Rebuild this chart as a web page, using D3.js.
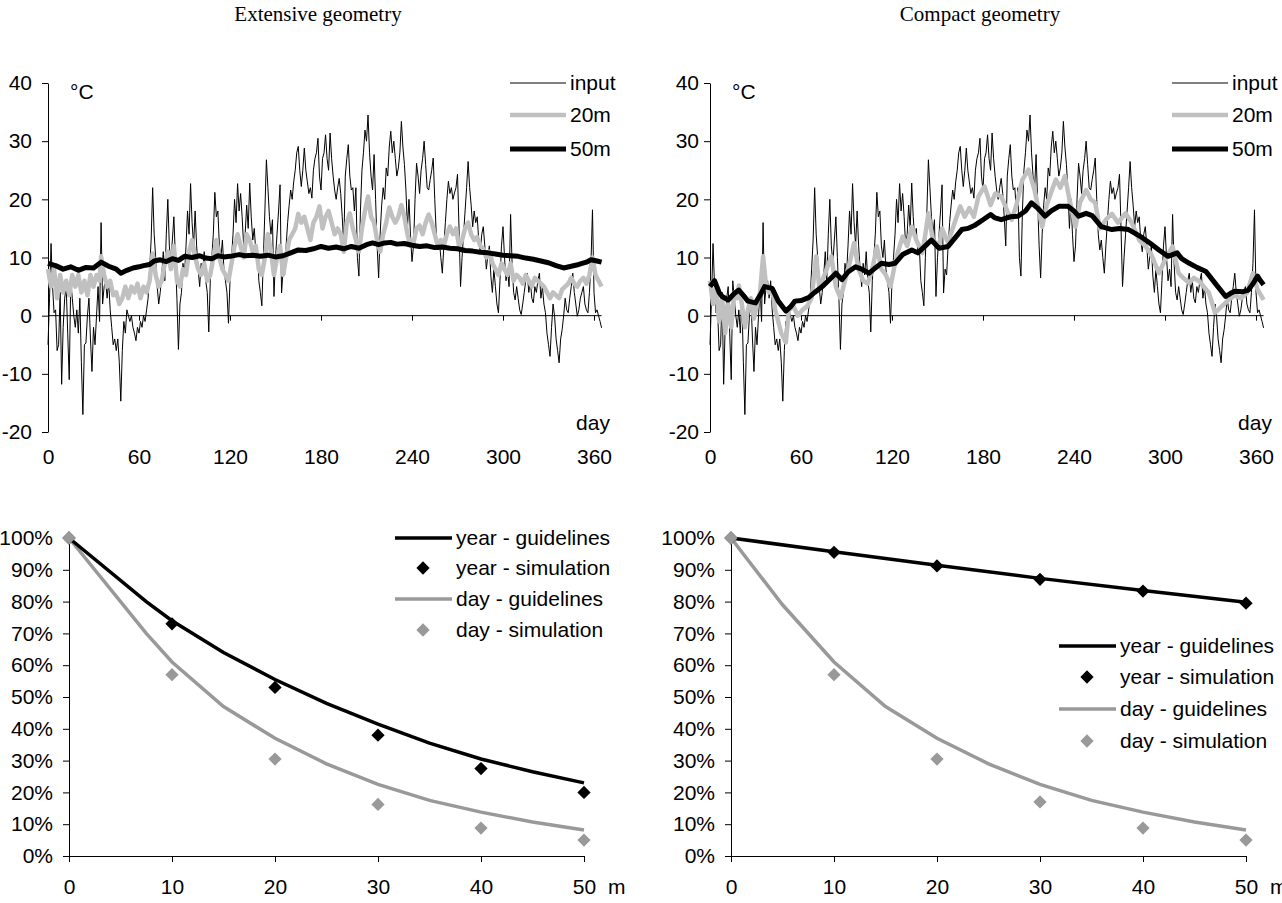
<!DOCTYPE html>
<html>
<head>
<meta charset="utf-8">
<script src="https://cdn.jsdelivr.net/npm/d3@7"></script>
<style>
body { margin: 0; background: #fff; }
svg text { font-family: "Liberation Sans", Arial, sans-serif; font-size: 21px; fill: #000; }
svg text.title { font-family: "Liberation Serif", "Times New Roman", serif; font-size: 21px; }
</style>
</head>
<body>
<div id="chart"></div>
<script>
// daily air temperature (input), [day, °C]
var inputTemp = [[0,-5],[1,3],[2,12.4],[3,5],[4,0.5],[5,1],[6,-6],[7,-5],[8,4],[9,-11.8],[10,-2],[11,3],[12,5],[13,-3],[14,-11],[15,6],[16,3],[17,0],[18,-2],[19,1],[20,-3],[21,3],[22,-8],[23,-17],[24,-5],[25,-4.7],[26,0],[27,3],[28,-4],[29,-9.6],[30,-2],[31,-5],[32,0],[33,5],[34,-1],[35,16],[36,2],[37,5],[38,6],[39,3],[40,6],[41,1],[42,-2],[43,-5],[44,-4],[45,-6],[46,-4],[47,-8],[48,-14.7],[49,-6],[50,-1],[51,-3],[52,1],[53,0],[54,-1],[55,0],[56,-2],[57,-3],[58,-4.3],[59,-2],[60,-3],[61,-1],[62,-2],[63,0],[64,-1],[65,1],[66,3],[67,8],[68,13],[69,22],[70,14],[71,10],[72,5],[73,2],[74,4],[75,7],[76,11],[77,6],[78,14],[79,20],[80,12],[81,9],[82,13],[83,17],[84,10],[85,3],[86,-5.8],[87,2],[88,4],[89,9],[90,7],[91,12],[92,18],[93,14],[94,22.7],[95,16],[96,12],[97,18],[98,12],[99,8],[100,5],[101,9],[102,7],[103,11],[104,6],[105,4],[106,-2.8],[107,6],[108,10],[109,14],[110,21.2],[111,17],[112,18],[113,12],[114,10],[115,13],[116,8],[117,6],[118,4],[119,-1.3],[120,6],[121,10],[122,14],[123,20],[124,16],[125,22.7],[126,18],[127,21],[128,17],[129,12],[130,14],[131,19],[132,15],[133,22.8],[134,17],[135,13],[136,15],[137,11],[138,12],[139,6],[140,4],[141,1.7],[142,10],[143,18],[144,26.8],[145,22],[146,17],[147,14],[148,16.5],[149,3.3],[150,10],[151,14],[152,18],[153,22.5],[154,3.9],[155,8],[156,7],[157,12],[158,16],[159,19],[160,21.6],[161,20],[162,23],[163,25],[164,28],[165,29.1],[166,25],[167,22.2],[168,25],[169,28.8],[170,25],[171,23],[172,21],[173,22],[174,20.2],[175,25],[176,27],[177,28],[178,30.5],[179,24],[180,21.6],[181,27],[182,28],[183,31.1],[184,27],[185,25],[186,31.4],[187,27],[188,24],[189,21.6],[190,20],[191,22],[192,23.6],[193,21],[194,17],[195,12],[196,24],[197,27],[198,29.4],[199,24],[200,21.6],[201,22],[202,18],[203,22],[204,10],[205,6.8],[206,18],[207,25],[208,28],[209,31.9],[210,30],[211,34.5],[212,28],[213,24],[214,21.6],[215,27.7],[216,20],[217,12],[218,6.5],[219,14],[220,19],[221,22],[222,20],[223,25.4],[224,24],[225,29],[226,31.7],[227,28],[228,30],[229,27],[230,24],[231,25.4],[232,28],[233,33.4],[234,29],[235,26],[236,21.6],[237,15],[238,20],[239,14],[240,9.3],[241,12],[242,20],[243,26.2],[244,24],[245,21],[246,25],[247,27],[248,30],[249,26],[250,22],[251,21.6],[252,23.4],[253,25],[254,27.1],[255,20],[256,14],[257,11.3],[258,13],[259,10],[260,7.3],[261,12],[262,16],[263,20],[264,23.1],[265,21],[266,22],[267,20],[268,21.1],[269,22],[270,24.3],[271,15],[272,5],[273,10],[274,14],[275,18],[276,22],[277,26.5],[278,22],[279,19],[280,15.3],[281,18],[282,16],[283,17],[284,13],[285,11],[286,14],[287,15.3],[288,12],[289,8],[290,10.2],[291,12],[292,6.8],[293,4],[294,8],[295,5],[296,2],[297,0.5],[298,6],[299,12],[300,15.3],[301,10],[302,6],[303,8],[304,5],[305,17.4],[306,9],[307,4],[308,2.7],[309,5],[310,3],[311,1],[312,0.2],[313,2],[314,4],[315,6],[316,7.3],[317,4],[318,6],[319,3],[320,2.2],[321,5],[322,4],[323,6],[324,7.3],[325,3],[326,5],[327,2],[328,0.5],[329,-3],[330,-5],[331,-7],[332,-2],[333,2],[334,-0.1],[335,-4],[336,-6],[337,-8.1],[338,-4],[339,-2.4],[340,0],[341,3],[342,1],[343,0.5],[344,3],[345,5],[346,7.3],[347,4],[348,2],[349,-0.1],[350,1],[351,3],[352,4],[353,5],[354,2],[355,1],[356,0.5],[357,4],[358,9],[359,18.2],[360,4],[361,0.5],[362,1],[363,0],[364,-1],[365,-2.1]];

// extensive geometry, ground temperature at 20 m and 50 m
var ext20m = [[0,8],[2,5],[4,8],[6,3],[8,7],[10,4],[12,6],[14,3.5],[16,7],[18,5],[20,7],[22,4],[24,6],[26,3.5],[28,7],[30,5],[32,7],[34,6],[35,10.2],[37,7],[39,5],[41,6],[43,3.5],[45,4],[47,2],[49,3],[51,5],[53,3],[55,5],[57,4],[59,5.5],[61,3],[63,5],[65,4],[67,6],[69,10.7],[71,7],[73,5],[75,6],[77,9],[79,11],[81,8],[83,12],[85,6],[87,5],[89,8],[91,7],[93,11],[95,13],[97,10],[99,8],[101,7],[103,9],[105,6],[107,7],[109,10],[111,13],[113,10],[115,8],[117,7],[119,6],[121,9],[123,12],[125,14],[127,12],[129,10],[131,14],[133,13],[135,11],[137,12],[139,8],[141,7],[143,10],[145,14],[147,11],[149,7],[151,10],[153,12],[155,7],[157,10],[159,13],[161,14],[163,15],[165,17.5],[167,16],[169,17],[171,15],[173,13],[175,16],[177,17],[179,18.8],[181,15],[183,17],[185,18],[187,16],[189,14],[191,15],[193,14],[195,11],[197,16],[199,17.6],[201,15],[203,13],[205,11],[207,15],[209,18],[211,20.5],[213,17],[215,16],[217,13],[219,11],[221,14],[223,16],[225,18.6],[227,17],[229,16],[231,17],[233,19],[235,17],[237,14],[239,12],[241,12.5],[243,15],[245,15.5],[247,14],[249,16],[251,17.4],[253,16],[255,14],[257,12],[259,13],[261,12],[263,14],[265,15.3],[267,14],[269,15],[271,12],[273,13],[275,15],[277,16],[279,14],[281,13],[283,13.5],[285,12],[287,11.5],[289,10],[291,11],[293,9],[295,8],[297,7],[299,9],[301,8],[303,7],[305,9],[307,6],[309,7],[311,6.5],[313,5.5],[315,7],[317,6],[319,5],[321,6.5],[323,6],[325,5.5],[327,5],[329,4],[331,3],[333,4],[335,3.5],[337,3],[339,4.5],[341,5],[343,5.5],[345,6.5],[347,5.5],[349,5],[351,6],[353,6.5],[355,5.5],[357,7],[359,10],[361,7],[363,6],[365,5]];
var ext50m = [[0,9],[5,8.6],[10,8],[15,8.4],[20,7.8],[25,8.3],[30,8.2],[35,9.2],[40,8.5],[45,8],[48,7.3],[52,7.8],[56,8.2],[60,8.4],[63,8.6],[67,8.8],[70,9.4],[74,9.6],[78,9.3],[82,9.8],[86,9.5],[90,10.2],[95,10],[100,10.3],[104,9.9],[108,9.8],[112,10.3],[116,10.1],[120,10.2],[126,10.5],[130,10.3],[135,10.4],[140,10.2],[145,10.4],[150,10.1],[155,10.3],[160,10.8],[165,11.3],[170,11.2],[175,11.5],[180,11.9],[185,11.6],[190,11.8],[195,11.5],[200,11.9],[205,11.6],[210,12.2],[214,12.5],[218,12.2],[222,12.5],[226,12.6],[230,12.3],[235,12.4],[240,12.1],[245,11.9],[250,12],[255,11.7],[260,11.8],[265,11.6],[270,11.5],[275,11.2],[280,11.1],[285,10.9],[290,10.8],[295,10.6],[300,10.4],[305,10.3],[310,10.2],[315,9.9],[320,9.7],[325,9.4],[330,9.1],[335,8.6],[340,8.2],[345,8.5],[350,8.8],[355,9.2],[358,9.6],[362,9.4],[365,9.2]];

// compact geometry, ground temperature at 20 m and 50 m
var comp20m = [[0,6],[2,2],[4,5],[6,-1],[8,3],[10,-3],[12,2],[14,-2],[16,4],[18,3],[19,5.2],[21,2],[23,-2],[25,1],[27,3],[29,-0.5],[31,2],[33,4],[35,10.2],[37,5],[39,4],[41,4.5],[43,1],[45,-1],[47,-3],[50,-4.6],[52,1],[55,1.6],[58,0],[61,1],[64,1.6],[67,3],[70,10.2],[72,5],[74,6],[77,8],[80,10.2],[83,5],[86,3],[89,6],[92,9],[95,12.5],[98,8],[101,6],[104,5.5],[107,8],[110,11.9],[113,8],[116,7],[119,5],[122,9],[124,11],[127,13.6],[130,12],[133,15.3],[136,13],[140,10.8],[142,14],[144,17.6],[147,13],[151,11.9],[153,15],[157,12.5],[160,15],[165,18.8],[168,17],[171,18.5],[174,17],[177,20.5],[181,22.2],[185,19],[188,21],[192,20.5],[196,18],[199,16.5],[202,19],[206,23.4],[210,25.1],[214,21.6],[219,15.3],[222,19],[224,20.5],[228,23.4],[231,22],[234,24],[237,20],[241,15.3],[244,19.5],[248,21.6],[251,20],[254,19.4],[257,15],[261,16.5],[265,17.5],[269,16],[274,17.6],[278,16],[283,13],[287,12],[291,10.5],[296,7.3],[300,9.6],[305,11.9],[309,7.3],[312,6.5],[316,5.6],[319,6.5],[323,5.8],[329,3.9],[333,0.5],[337,1.5],[342,2.7],[346,3.5],[350,3],[354,3.9],[358,7.3],[361,4.5],[365,2.7]];
var comp50m = [[0,5],[3,6],[6,4],[8,3.3],[12,2.7],[16,3.8],[19,4.4],[22,3.5],[25,2.5],[30,2.2],[33,3.5],[36,5],[41,4.7],[45,2.5],[50,0.8],[53,1.5],[56,2.5],[60,2.6],[65,3.1],[69,4],[74,5],[78,6],[83,7.3],[87,6.2],[91,7.5],[96,8.4],[100,8],[105,7.3],[109,8.2],[113,9],[118,8.8],[122,9],[127,10.5],[133,11.3],[137,10.8],[142,12],[146,13],[151,11.6],[157,11.9],[162,13.5],[166,14.8],[170,15],[175,15.6],[180,16.5],[185,17.4],[188,16.8],[192,16.5],[198,17],[203,17.1],[208,18],[212,19.4],[216,18.5],[221,17.1],[225,18],[230,18.8],[236,18.8],[240,18],[243,17.1],[248,17.6],[252,17.2],[258,15.3],[265,14.8],[270,15],[276,14.8],[280,14.2],[285,13.4],[290,12.5],[296,11.3],[302,10.2],[308,10.8],[311,9.8],[316,9],[321,8.3],[327,7.6],[333,5.6],[340,3.3],[343,3.8],[346,4.2],[351,4.1],[355,4.4],[358,5.5],[361,6.8],[363,6],[365,5.3]];

var dayTicks = [0, 60, 120, 180, 240, 300, 360];
var tempTicks = [-20, -10, 0, 10, 20, 30, 40];
var topLegend = ["input", "20m", "50m"];

// attenuation vs depth, [m, %]
var extYearGuide = [[0,100],[7.5,80],[10,74],[15,64],[20,55.5],[25,48],[30,41.5],[35,35.5],[40,30.5],[45,26.5],[50,23]];
var extYearSim = [[0,100],[10,73],[20,53],[30,38],[40,27.5],[50,20]];
var extDayGuide = [[0,100],[7.5,70],[10,61],[15,47],[20,37],[25,29],[30,22.5],[35,17.5],[40,13.8],[45,10.7],[50,8.2]];
var extDaySim = [[0,100],[10,57],[20,30.5],[30,16.2],[40,8.8],[50,5]];
var compYearGuide = [[0,100],[10,95.7],[20,91.4],[30,87.3],[40,83.5],[50,79.8]];
var compYearSim = [[0,100],[10,95.5],[20,91.2],[30,87],[40,83.3],[50,79.5]];
var compDayGuide = [[0,100],[5,79],[10,61],[15,47],[20,37],[25,29],[30,22.5],[35,17.5],[40,13.8],[45,10.7],[50,8.2]];
var compDaySim = [[0,100],[10,57],[20,30.5],[30,17],[40,8.8],[50,5]];

var depthTicks = [0, 10, 20, 30, 40, 50];
var pctTicks = [0, 10, 20, 30, 40, 50, 60, 70, 80, 90, 100];
var bottomLegend = ["year - guidelines", "year - simulation", "day - guidelines", "day - simulation"];

var svg = d3.select("#chart").append("svg")
    .attr("width", 1282)
    .attr("height", 903);

function tempPanel(dx, title, s20, s50, labelPad) {
  var g = svg.append("g").attr("transform", "translate(" + dx + ",0)");
  var x = d3.scaleLinear().domain([0, 360]).range([48, 594]);
  var y = d3.scaleLinear().domain([-20, 40]).range([432, 83]);

  g.append("text").attr("class", "title")
      .attr("x", 318).attr("y", 21)
      .attr("text-anchor", "middle")
      .text(title);

  var yAxis = g.append("g")
      .attr("transform", "translate(" + x(0) + ",0)")
      .call(d3.axisLeft(y).tickValues(tempTicks).tickSize(6).tickSizeOuter(0).tickPadding(labelPad)
        .tickFormat(function(d) { return d < 0 ? "-" + Math.abs(d) : d; }));
  yAxis.selectAll("text").style("font-size", "21px");

  var xAxis = g.append("g")
      .attr("transform", "translate(0," + y(0) + ")")
      .call(d3.axisBottom(x).tickValues(dayTicks).tickSize(5).tickSizeOuter(0));
  xAxis.select(".domain").attr("d", "M" + x(0) + ",0H" + x(365));
  xAxis.selectAll(".tick line").filter(function(d) { return d === 0; }).remove();
  xAxis.selectAll("text").attr("y", y(-20) - y(0) + 25).attr("dy", "0.35em").style("font-size", "21px");
  g.selectAll(".domain, .tick line").attr("stroke", "#000");

  g.append("text").attr("x", 70).attr("y", 92).attr("dy", "0.35em").text("°C");
  g.append("text").attr("x", 593).attr("y", 430).attr("text-anchor", "middle").text("day");

  var line = d3.line().x(function(d) { return x(d[0]); }).y(function(d) { return y(d[1]); });
  g.append("path").datum(inputTemp).attr("d", line)
      .attr("fill", "none").attr("stroke", "#000").attr("stroke-width", 1);
  g.append("path").datum(s20).attr("d", line)
      .attr("fill", "none").attr("stroke", "#c0c0c0").attr("stroke-width", 4.5).attr("stroke-linejoin", "round");
  g.append("path").datum(s50).attr("d", line)
      .attr("fill", "none").attr("stroke", "#000").attr("stroke-width", 5).attr("stroke-linejoin", "round");

  var legY = [83, 115, 149];
  var legStroke = ["#000", "#c0c0c0", "#000"];
  var legWidth = [1, 4.5, 5];
  var leg = g.selectAll(".leg").data(topLegend).enter().append("g").attr("class", "leg");
  leg.append("line")
      .attr("x1", 510).attr("x2", 566)
      .attr("y1", function(d, i) { return legY[i]; })
      .attr("y2", function(d, i) { return legY[i]; })
      .attr("stroke", function(d, i) { return legStroke[i]; })
      .attr("stroke-width", function(d, i) { return legWidth[i]; });
  leg.append("text")
      .attr("x", 570)
      .attr("y", function(d, i) { return legY[i]; })
      .attr("dy", "0.35em")
      .text(function(d) { return d; });
}

function depthPanel(dx, yearGuide, yearSim, dayGuide, daySim, legX, legY) {
  var g = svg.append("g").attr("transform", "translate(" + dx + ",0)");
  var x = d3.scaleLinear().domain([0, 50]).range([69, 584]);
  var y = d3.scaleLinear().domain([0, 100]).range([856, 538]);

  var yAxis = g.append("g")
      .attr("transform", "translate(" + x(0) + ",0)")
      .call(d3.axisLeft(y).tickValues(pctTicks).tickSize(6).tickSizeOuter(0).tickPadding(10)
        .tickFormat(function(d) { return d + "%"; }));
  yAxis.selectAll("text").style("font-size", "21px");

  var xAxis = g.append("g")
      .attr("transform", "translate(0," + y(0) + ")")
      .call(d3.axisBottom(x).tickValues(depthTicks).tickSize(6).tickSizeOuter(0));
  xAxis.selectAll("text").attr("y", 31).attr("dy", "0.35em").style("font-size", "21px");
  g.selectAll(".domain, .tick line").attr("stroke", "#000");
  g.append("text").attr("x", x(50) + 24).attr("y", y(0) + 31).attr("dy", "0.35em").text("m");

  var line = d3.line().x(function(d) { return x(d[0]); }).y(function(d) { return y(d[1]); });
  var diamond = d3.symbol().type(d3.symbolSquare).size(88);

  g.append("path").datum(dayGuide).attr("d", line)
      .attr("fill", "none").attr("stroke", "#999").attr("stroke-width", 3.5);
  g.append("path").datum(yearGuide).attr("d", line)
      .attr("fill", "none").attr("stroke", "#000").attr("stroke-width", 3.5);
  g.selectAll(".ys").data(yearSim).enter().append("path")
      .attr("d", diamond)
      .attr("transform", function(d) { return "translate(" + x(d[0]) + "," + y(d[1]) + ") rotate(45)"; })
      .attr("fill", "#000");
  g.selectAll(".ds").data(daySim).enter().append("path")
      .attr("d", diamond)
      .attr("transform", function(d) { return "translate(" + x(d[0]) + "," + y(d[1]) + ") rotate(45)"; })
      .attr("fill", "#999");

  var colors = ["#000", "#000", "#999", "#999"];
  var leg = g.selectAll(".leg").data(bottomLegend).enter().append("g").attr("class", "leg")
      .attr("transform", function(d, i) { return "translate(0," + legY[i] + ")"; });
  leg.filter(function(d, i) { return i % 2 === 0; }).append("line")
      .attr("x1", legX).attr("x2", legX + 57)
      .attr("stroke", function(d, i) { return colors[i * 2]; })
      .attr("stroke-width", 3.5);
  leg.filter(function(d, i) { return i % 2 === 1; }).append("path")
      .attr("d", diamond)
      .attr("transform", "translate(" + (legX + 28) + ",0) rotate(45)")
      .attr("fill", function(d, i) { return colors[i * 2 + 1]; });
  leg.append("text")
      .attr("x", legX + 61)
      .attr("dy", "0.35em")
      .text(function(d) { return d; });
}

tempPanel(0, "Extensive geometry", ext20m, ext50m, 10);
tempPanel(662, "Compact geometry", comp20m, comp50m, 5);
depthPanel(0, extYearGuide, extYearSim, extDayGuide, extDaySim, 395, [538, 568, 599, 630]);
depthPanel(662, compYearGuide, compYearSim, compDayGuide, compDaySim, 397, [646, 677, 709, 741]);
</script>
</body>
</html>
